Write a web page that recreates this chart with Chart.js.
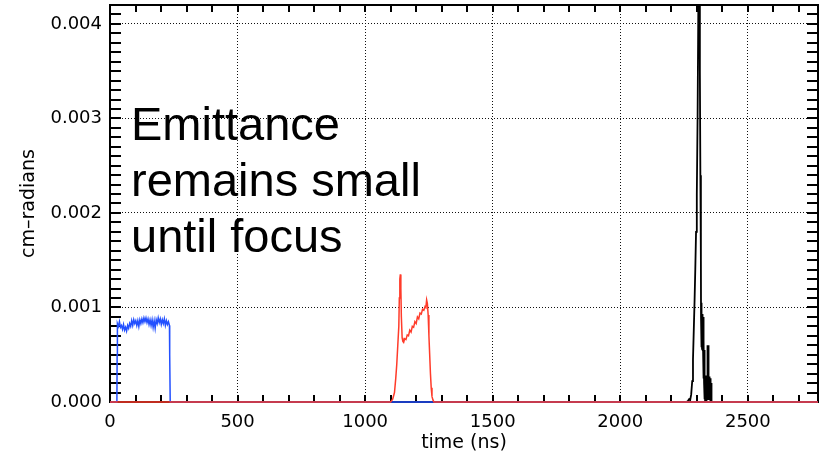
<!DOCTYPE html>
<html>
<head>
<meta charset="utf-8">
<script src="https://cdn.jsdelivr.net/npm/chart.js@4"></script>
<style>
html,body{margin:0;padding:0;background:#fff;}
#wrap{width:827px;height:454px;}
</style>
</head>
<body>
<div id="wrap"><canvas id="c" width="827" height="454"></canvas></div>
<script>
// ---- axis definitions ----
const X_MIN = 0, X_MAX = 2775;
const Y_MIN = 0, Y_MAX = 0.0042;
const X_TICKS = [0, 500, 1000, 1500, 2000, 2500];
const X_TICK_LABELS = ['0', '500', '1000', '1500', '2000', '2500'];
const Y_TICKS = [0, 0.001, 0.002, 0.003, 0.004];
const Y_TICK_LABELS = ['0.000', '0.001', '0.002', '0.003', '0.004'];
const X_MINOR_STEP = 100;
const Y_MINOR_STEP = 0.0001;
const X_TITLE = 'time (ns)';
const Y_TITLE = 'cm–radians';
const NOTE_LINES = ['Emittance', 'remains small', 'until focus'];

// ---- blue series (early pulse) ----
const blueT = [0, 27, 28, 29, 33, 37, 41, 45, 49, 53, 57, 61, 65, 69, 73, 77, 81, 85, 89, 93, 97,
  101, 105, 109, 113, 117, 121, 125, 129, 133, 137, 141, 145, 149, 153, 157, 161, 165, 169, 173,
  177, 181, 185, 189, 193, 197, 201, 205, 209, 213, 217, 221, 225, 229, 233, 234, 236, 2775];
const blueY = [0, 0, 0.0005, 0.00083, 0.0008, 0.00085, 0.00079, 0.00081, 0.00077, 0.00082, 0.00076,
  0.00079, 0.00075, 0.00081, 0.00078, 0.00083, 0.0008, 0.00086, 0.00081, 0.00087, 0.00083,
  0.00086, 0.00081, 0.00086, 0.0008, 0.00087, 0.00083, 0.00088, 0.00084, 0.00089, 0.00085,
  0.00089, 0.00084, 0.00088, 0.00082, 0.00087, 0.00081, 0.00087, 0.00079, 0.00086,
  0.00078, 0.00087, 0.00083, 0.00089, 0.00084, 0.00088, 0.00082, 0.00087, 0.00083, 0.00088,
  0.00081, 0.00086, 0.00082, 0.00085, 0.00081, 0.0005, 0, 0];

// ---- red series (middle pulse) ----
const redT = [0, 1100, 1108, 1115, 1120, 1124, 1128, 1132, 1134, 1136, 1138, 1140, 1142, 1145,
  1148, 1151, 1155, 1160, 1165, 1170, 1175, 1180, 1185, 1190, 1195, 1200, 1205, 1210, 1215,
  1220, 1225, 1230, 1235, 1238, 1241, 1244, 1247, 1250, 1253, 1256, 1259, 1262, 1266, 1270, 2775];
const redY = [0, 0, 0.00003, 0.0001, 0.00025, 0.0004, 0.0006, 0.0008, 0.0011, 0.0013, 0.00135,
  0.0012, 0.0009, 0.00068, 0.00064, 0.00063, 0.00067, 0.00066, 0.00071, 0.0007, 0.00076,
  0.00074, 0.0008, 0.00079, 0.00085, 0.00083, 0.0009, 0.00088, 0.00094, 0.00093, 0.00098,
  0.00097, 0.00101, 0.001, 0.00108, 0.00104, 0.00092, 0.0007, 0.0005, 0.0003, 0.00015,
  0.00006, 0.00002, 0, 0];

// ---- black series (focus) ----
const blackT = [0, 2260, 2265, 2270, 2274, 2278, 2282, 2285, 2288, 2291, 2294, 2297, 2300, 2303,
  2306, 2308, 2310, 2312, 2314, 2316,
  2316.5, 2317, 2317.5, 2318, 2318.5, 2319, 2319.5, 2320, 2320.5, 2321, 2321.5, 2322, 2322.5,
  2323, 2323.5, 2324, 2324.5, 2325, 2325.5, 2326, 2326.5, 2327, 2327.5, 2328, 2328.5, 2329,
  2329.5, 2330, 2330.5, 2331, 2331.5, 2332, 2332.5, 2333, 2333.5, 2334, 2334.5, 2335, 2335.5,
  2336, 2336.5, 2337, 2337.5, 2338, 2338.5, 2339, 2339.5, 2340, 2340.5, 2341, 2341.5, 2342,
  2342.5, 2343, 2343.5, 2344, 2344.5, 2345, 2345.5, 2346, 2346.5, 2347, 2347.5, 2348, 2348.5,
  2349, 2349.5, 2350, 2350.5, 2351, 2351.5, 2352, 2352.5, 2353, 2353.5, 2354, 2354.5, 2355,
  2355.5, 2356, 2356.5, 2357, 2357.5, 2358, 2359, 2360, 2775];
const blackY = [0, 0, 0.00001, 0.00003, 0.00002, 0.00008, 0.00022, 0.00045, 0.00075, 0.00105,
  0.0014, 0.0018, 0.0022, 0.003, 0.0042, 0.0049, 0.0045, 0.0035, 0.0024, 0.0015,
  0.0009, 0.00105, 0.0006, 0.00098, 0.00058, 0.00095, 0.0006, 0.00094, 0.00056, 0.00092,
  0.00058, 0.0009, 0.00055, 0.00093, 0.00057, 0.0009, 0.00055, 0.00088, 0.00056, 0.0009,
  0.0003, 0.0007, 0.00025, 0.00065, 0.0002, 0.00055, 0.0001, 0.00032, 0.00004, 0.0003,
  0.00003, 0.00029, 0.00002, 0.00028, 0.00004, 0.00027, 0.00002, 0.00028, 0.00003, 0.00026,
  0.00002, 0.00027, 0.00004, 0.00028, 0.00002, 0.00027, 0.00003, 0.00028, 0.00002, 0.00028,
  0.00005, 0.0006, 0.0001, 0.00058, 0.00008, 0.0006, 0.0001, 0.00055, 0.00005, 0.00058,
  0.00003, 0.00026, 0.00002, 0.00027, 0.00003, 0.00026, 0.00002, 0.00025, 0.00003, 0.00026,
  0.00002, 0.00025, 0.00002, 0.00024, 0.00003, 0.00024, 0.00002, 0.00022, 0.00001, 0.0002,
  0.00001, 0.00015, 0, 0.0001, 0, 0, 0];

const pts = (t, y) => t.map((v, i) => ({x: v, y: y[i]}));

const frameAndMinor = {
  id: 'frameAndMinor',
  beforeDatasetsDraw(chart) {
    const {ctx, chartArea: a, scales: {x, y}} = chart;
    ctx.save();
    ctx.strokeStyle = '#000';
    ctx.lineWidth = 2;
    ctx.beginPath();
    for (let i = 1; i * X_MINOR_STEP < X_MAX; i++) {
      const px = Math.round(x.getPixelForValue(i * X_MINOR_STEP));
      ctx.moveTo(px, a.bottom); ctx.lineTo(px, a.bottom - 7);
      ctx.moveTo(px, a.top); ctx.lineTo(px, a.top + 7);
    }
    for (let i = 1; i * Y_MINOR_STEP < Y_MAX - 1e-9; i++) {
      const py = Math.round(y.getPixelForValue(i * Y_MINOR_STEP));
      ctx.moveTo(a.left, py); ctx.lineTo(a.left + 11, py);
      ctx.moveTo(a.right, py); ctx.lineTo(a.right - 11, py);
    }
    ctx.stroke();
    ctx.strokeRect(a.left, a.top, a.right - a.left, a.bottom - a.top);
    ctx.restore();
  }
};

const note = {
  id: 'note',
  afterDatasetsDraw(chart) {
    const {ctx} = chart;
    ctx.save();
    ctx.fillStyle = '#000';
    ctx.font = '47px "Liberation Sans", Arial, sans-serif';
    ctx.textBaseline = 'alphabetic';
    ctx.textAlign = 'left';
    NOTE_LINES.forEach((s, i) => ctx.fillText(s, 131, 140 + i * 56));
    ctx.restore();
  }
};

const tickFont = {family: '"DejaVu Sans", sans-serif', size: 18};
const titleFont = {family: '"DejaVu Sans", sans-serif', size: 19};
const gridOpts = {color: '#111', lineWidth: 1, drawTicks: false};
const clipOpt = {left: 2, right: 2, top: 0, bottom: 3};

new Chart(document.getElementById('c'), {
  type: 'line',
  data: {
    datasets: [
      {label: 'red', data: pts(redT, redY), borderColor: '#ff3b2a', borderWidth: 1.5, pointRadius: 0, order: 0, clip: clipOpt},
      {label: 'blue', data: pts(blueT, blueY), borderColor: '#2350ff', borderWidth: 1.5, pointRadius: 0, order: 1, clip: clipOpt},
      {label: 'black', data: pts(blackT, blackY), borderColor: '#000', borderWidth: 1.8, pointRadius: 0, order: 2, clip: clipOpt}
    ]
  },
  options: {
    responsive: false,
    animation: false,
    parsing: false,
    layout: {padding: {left: 0, right: 9, top: 5, bottom: 0}},
    plugins: {legend: {display: false}, tooltip: {enabled: false}},
    scales: {
      x: {
        type: 'linear', min: X_MIN, max: X_MAX,
        afterBuildTicks: ax => { ax.ticks = X_TICKS.map(v => ({value: v})); },
        afterFit: s => { s.height = 52; s.paddingLeft = 0; s.paddingRight = 0; },
        ticks: {font: tickFont, color: '#000', padding: 10, maxRotation: 0, autoSkip: false,
          callback: (v, i) => X_TICK_LABELS[i]},
        grid: gridOpts,
        border: {display: false, dash: [1, 2]},
        title: {display: true, text: X_TITLE, font: titleFont, color: '#000', padding: {top: 0, bottom: 0}}
      },
      y: {
        type: 'linear', min: Y_MIN, max: Y_MAX,
        afterBuildTicks: ax => { ax.ticks = Y_TICKS.map(v => ({value: v})); },
        afterFit: s => { s.width = 110; s.paddingTop = 0; s.paddingBottom = 0; },
        ticks: {font: tickFont, color: '#000', padding: 8, autoSkip: false,
          callback: (v, i) => Y_TICK_LABELS[i]},
        grid: gridOpts,
        border: {display: false, dash: [1, 2]},
        title: {display: true, text: Y_TITLE, font: titleFont, color: '#000', padding: {top: 18, bottom: 0}}
      }
    }
  },
  plugins: [frameAndMinor, note]
});
</script>
</body>
</html>
